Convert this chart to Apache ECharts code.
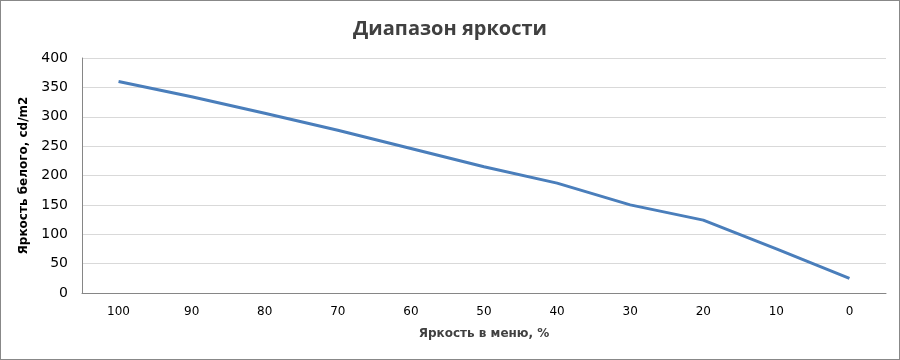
<!DOCTYPE html>
<html><head><meta charset="utf-8">
<script src="https://cdn.jsdelivr.net/npm/echarts@6/dist/echarts.min.js"></script>
<style>html,body{margin:0;padding:0;background:#fff}#c{width:898px;height:358px;border:1px solid #888;}</style>
</head><body><div id="c"></div>
<script>
const categories = ['100','90','80','70','60','50','40','30','20','10','0'];
const brightness = [360, 334, 306, 277, 246, 215, 187, 150, 124, 75, 25];
const yTicks = {min: 0, max: 400, interval: 50};

const chart = echarts.init(document.getElementById('c'), null, {renderer: 'canvas'});
chart.setOption({
  animation: false,
  title: {
    text: 'Диапазон яркости', left: 'center', top: 13,
    textStyle: {fontFamily: 'Liberation Sans Narrow, Open Sans, sans-serif', fontSize: 20, fontWeight: 'bold', color: '#404040'}
  },
  grid: {left: 81, right: 13, top: 57, bottom: 66},
  xAxis: {
    type: 'category', data: categories, boundaryGap: true,
    name: 'Яркость в меню, %', nameLocation: 'middle', nameGap: 35,
    nameTextStyle: {fontFamily: 'DejaVu Sans, sans-serif', fontSize: 12, fontWeight: 'bold', color: '#404040'},
    axisLine: {lineStyle: {color: '#868686'}},
    axisTick: {show: false},
    axisLabel: {color: '#000', fontSize: 12, fontFamily: 'DejaVu Sans, sans-serif', margin: 13}
  },
  yAxis: {
    type: 'value', min: yTicks.min, max: yTicks.max, interval: yTicks.interval,
    name: 'Яркость белого, cd/m2', nameLocation: 'middle', nameGap: 52,
    nameTextStyle: {fontFamily: 'DejaVu Sans, sans-serif', fontSize: 12, fontWeight: 'bold', color: '#000'},
    axisLine: {show: true, lineStyle: {color: '#868686'}},
    axisTick: {show: false},
    splitLine: {lineStyle: {color: '#d9d9d9'}},
    axisLabel: {color: '#000', fontSize: 14, fontFamily: 'DejaVu Sans, sans-serif', margin: 14}
  },
  series: [{
    type: 'line', data: brightness, symbol: 'none',
    lineStyle: {color: '#4a7ebb', width: 3}
  }]
});
</script></body></html>
